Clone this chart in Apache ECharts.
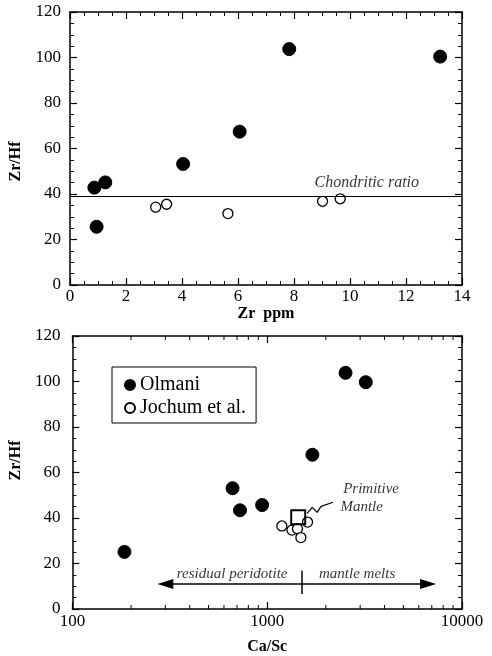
<!DOCTYPE html>
<html>
<head>
<meta charset="utf-8">
<script src="https://cdn.jsdelivr.net/npm/echarts@6/dist/echarts.min.js"></script>
<style>
html, body { margin: 0; padding: 0; background: #fff; }
#main { width: 492px; height: 656px; }
</style>
</head>
<body>
<div id="main"></div>
<script>
var dom = document.getElementById("main");
var myChart = echarts.init(dom);

// top panel: Zr ppm vs Zr/Hf
var olmaniZr = [0.87, 1.26, 0.95, 4.04, 6.06, 7.83, 13.22];
var olmaniZrHf = [42.8, 45.1, 25.6, 53.2, 67.4, 103.7, 100.4];
var jochumZr = [3.06, 3.45, 5.64, 9.02, 9.65];
var jochumZrHf = [34.2, 35.5, 31.4, 36.8, 37.9];
var chondriticRatio = 39;

// bottom panel: Ca/Sc vs Zr/Hf
var olmaniCaSc = [185, 664, 725, 942, 1706, 2524, 3206];
var olmaniZrHf2 = [25.1, 53.1, 43.4, 45.7, 67.8, 103.8, 99.7];
var jochumCaSc = [1189, 1340, 1430, 1489, 1611];
var jochumZrHf2 = [36.5, 34.7, 35.3, 31.4, 38.2];
var primitiveMantle = [1443, 40.3];

// minor ticks of the log axis (2..9 in each decade)
var logMinorTicks = [200, 300, 400, 500, 600, 700, 800, 900, 2000, 3000, 4000, 5000, 6000, 7000, 8000, 9000];

// annotations (data units)
var leaderLine = [[1603, 42.0], [1702, 44.7], [1804, 42.5], [1891, 45.1], [2177, 46.9]];
var arrowY = 11;
var arrowSplit = 1500;
var arrowLeftEnd = 300;
var arrowRightEnd = 6700;
var topNotes = [[10.6, 45.0, 'Chondritic ratio']];
var bottomNotes = [
    [3413, 52.6, 'Primitive'],
    [3055, 44.7, 'Mantle'],
    [661, 15.3, 'residual peridotite'],
    [2894, 15.3, 'mantle melts']
];

var font = 'Liberation Serif';
var tickFont = 17;
var nameFont = 16;

function zip(xs, ys) {
    return xs.map(function (x, i) { return [x, ys[i]]; });
}

function frameAxis(opt) {
    return Object.assign({
        axisLine: {show: true, onZero: false, lineStyle: {color: '#000', width: 1.5}},
        axisTick: {show: true, inside: true, length: 7, lineStyle: {color: '#000', width: 1.2}},
        minorTick: {show: true, splitNumber: 4, length: 4, lineStyle: {color: '#000', width: 1}},
        splitLine: {show: false},
        axisLabel: {color: '#000', fontFamily: font, fontSize: tickFont},
        nameTextStyle: {color: '#000', fontFamily: font, fontSize: nameFont, fontWeight: 'bold'}
    }, opt);
}

var filledStyle = {color: '#000', borderColor: '#000', borderWidth: 1, opacity: 1};
var openStyle = {color: '#fff', borderColor: '#000', borderWidth: 1.3, opacity: 1};

var noteLabel = {
    show: true,
    position: 'inside',
    color: '#000',
    fontFamily: font,
    fontStyle: 'italic',
    fontSize: 15,
    formatter: function (p) { return p.data[2]; }
};

option = {
    animation: false,
    backgroundColor: '#fff',
    grid: [
        {left: 70, top: 12, width: 392, height: 273},
        {left: 72, top: 336, width: 390, height: 274}
    ],
    legend: {
        data: ['Olmani', 'Jochum et al.'],
        orient: 'vertical',
        left: 112,
        top: 367,
        itemWidth: 10,
        itemHeight: 10,
        itemGap: 3,
        padding: [8, 10, 5, 12],
        borderColor: '#000',
        borderWidth: 1,
        selectedMode: false,
        icon: 'circle',
        textStyle: {color: '#000', fontFamily: font, fontSize: 20}
    },
    xAxis: [
        frameAxis({gridIndex: 0, type: 'value', position: 'bottom', min: 0, max: 14, interval: 2,
            name: 'Zr  ppm', nameLocation: 'middle', nameGap: 19,
            axisLabel: {color: '#000', fontFamily: font, fontSize: tickFont, margin: 3}}),
        frameAxis({gridIndex: 0, type: 'value', position: 'top', min: 0, max: 14, interval: 2,
            axisLabel: {show: false}}),
        frameAxis({gridIndex: 1, type: 'log', logBase: 10, position: 'bottom', min: 100, max: 10000,
            minorTick: {show: false},
            name: 'Ca/Sc', nameLocation: 'middle', nameGap: 30,
            axisLabel: {color: '#000', fontFamily: font, fontSize: tickFont, margin: 4,
                formatter: function (v) { return String(Math.round(v)); }}}),
        frameAxis({gridIndex: 1, type: 'log', logBase: 10, position: 'top', min: 100, max: 10000,
            minorTick: {show: false},
            axisLabel: {show: false}})
    ],
    yAxis: [
        frameAxis({gridIndex: 0, type: 'value', position: 'left', min: 0, max: 120, interval: 20,
            name: 'Zr/Hf', nameLocation: 'middle', nameGap: 46,
            nameTextStyle: {color: '#000', fontFamily: font, fontSize: nameFont, fontWeight: 'bold', padding: [0, 26, 0, 0]},
            axisLabel: {color: '#000', fontFamily: font, fontSize: tickFont, margin: 9}}),
        frameAxis({gridIndex: 0, type: 'value', position: 'right', min: 0, max: 120, interval: 20,
            axisLabel: {show: false}}),
        frameAxis({gridIndex: 1, type: 'value', position: 'left', min: 0, max: 120, interval: 20,
            name: 'Zr/Hf', nameLocation: 'middle', nameGap: 48,
            nameTextStyle: {color: '#000', fontFamily: font, fontSize: nameFont, fontWeight: 'bold', padding: [0, 0, 0, 24]},
            axisLabel: {color: '#000', fontFamily: font, fontSize: tickFont, margin: 12}}),
        frameAxis({gridIndex: 1, type: 'value', position: 'right', min: 0, max: 120, interval: 20,
            axisLabel: {show: false}})
    ],
    series: [
        {
            name: 'Olmani', type: 'scatter', xAxisIndex: 0, yAxisIndex: 0,
            symbolSize: 13, itemStyle: filledStyle,
            data: zip(olmaniZr, olmaniZrHf),
            markLine: {
                silent: true, symbol: 'none', label: {show: false},
                lineStyle: {color: '#000', width: 1.2, type: 'solid'},
                data: [{yAxis: chondriticRatio}]
            }
        },
        {
            name: 'Jochum et al.', type: 'scatter', xAxisIndex: 0, yAxisIndex: 0,
            symbolSize: 10, itemStyle: openStyle,
            data: zip(jochumZr, jochumZrHf)
        },
        {
            type: 'scatter', xAxisIndex: 0, yAxisIndex: 0, silent: true,
            symbolSize: 1, itemStyle: {color: 'rgba(0,0,0,0)'},
            label: Object.assign({}, noteLabel, {fontSize: 16}),
            data: topNotes
        },
        {
            // minor ticks on the log axis, bottom and top edges
            type: 'custom', xAxisIndex: 2, yAxisIndex: 2, silent: true, clip: false,
            data: logMinorTicks,
            renderItem: function (params, api) {
                var v = api.value(0);
                var b = api.coord([v, 0]);
                var t = api.coord([v, 120]);
                var style = {stroke: '#000', lineWidth: 1};
                return {
                    type: 'group',
                    children: [
                        {type: 'line', shape: {x1: b[0], y1: b[1], x2: b[0], y2: b[1] - 4}, style: style},
                        {type: 'line', shape: {x1: t[0], y1: t[1], x2: t[0], y2: t[1] + 4}, style: style}
                    ]
                };
            },
            encode: {x: 0}
        },
        {
            name: 'Olmani', type: 'scatter', xAxisIndex: 2, yAxisIndex: 2,
            symbolSize: 13, itemStyle: filledStyle,
            data: zip(olmaniCaSc, olmaniZrHf2)
        },
        {
            name: 'Jochum et al.', type: 'scatter', xAxisIndex: 2, yAxisIndex: 2,
            symbolSize: 10, itemStyle: openStyle,
            data: zip(jochumCaSc, jochumZrHf2)
        },
        {
            type: 'line', xAxisIndex: 2, yAxisIndex: 2, silent: true,
            symbol: 'none', lineStyle: {color: '#000', width: 1.2},
            data: leaderLine
        },
        {
            type: 'scatter', xAxisIndex: 2, yAxisIndex: 2, silent: true,
            symbol: 'rect', symbolSize: 14,
            itemStyle: {color: 'rgba(255,255,255,0)', borderColor: '#000', borderWidth: 2, opacity: 1},
            data: [primitiveMantle],
            z: 3
        },
        {
            type: 'scatter', xAxisIndex: 2, yAxisIndex: 2, silent: true,
            symbolSize: 1, itemStyle: {color: 'rgba(0,0,0,0)'},
            label: noteLabel,
            data: bottomNotes,
            markLine: {
                silent: true, label: {show: false},
                symbolSize: [10, 16],
                lineStyle: {color: '#000', width: 1.5, type: 'solid'},
                data: [
                    [{coord: [arrowSplit, arrowY], symbol: 'none'}, {coord: [arrowLeftEnd, arrowY], symbol: 'triangle'}],
                    [{coord: [arrowSplit, arrowY], symbol: 'none'}, {coord: [arrowRightEnd, arrowY], symbol: 'triangle'}],
                    [{coord: [arrowSplit, 16.8], symbol: 'none'}, {coord: [arrowSplit, 6.6], symbol: 'none'}]
                ]
            }
        }
    ]
};

if (option && typeof option === "object") {
    myChart.setOption(option, true);
}
</script>
</body>
</html>
